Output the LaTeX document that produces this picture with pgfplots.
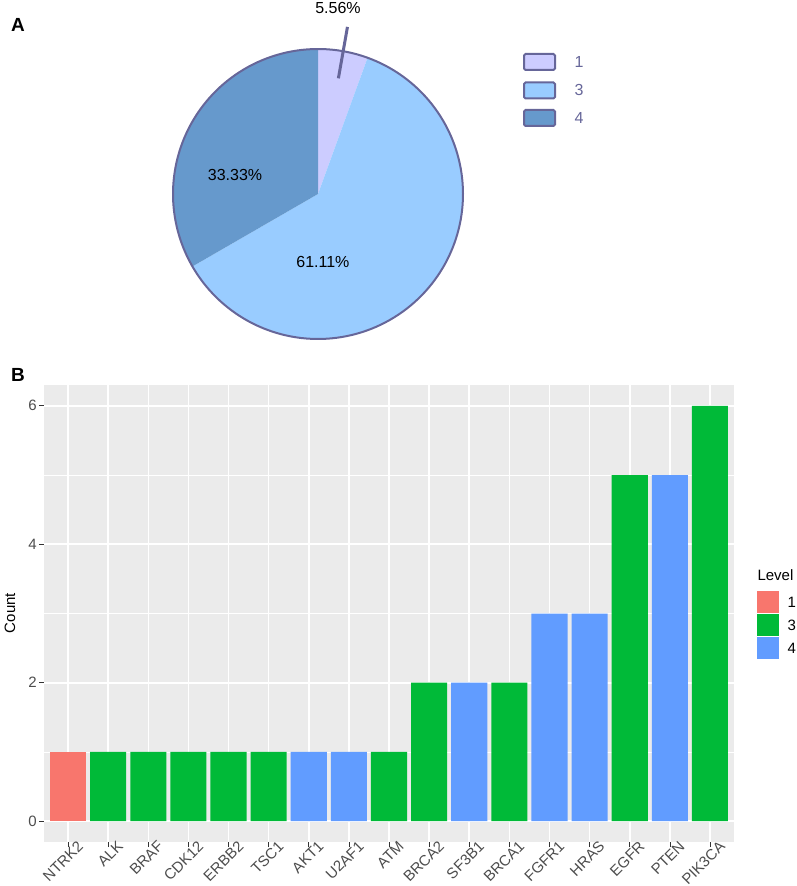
\documentclass[border=0pt]{standalone}
\usepackage{pgfplots}
\pgfplotsset{compat=1.18}
\usepackage{fontspec}
\setmainfont{Liberation Sans}
\definecolor{pA}{HTML}{CCCCFF}
\definecolor{pC}{HTML}{99CCFF}
\definecolor{pD}{HTML}{6699CC}
\definecolor{pedge}{HTML}{666699}
\definecolor{lvA}{HTML}{F8766D}
\definecolor{lvC}{HTML}{00BA38}
\definecolor{lvD}{HTML}{619CFF}
\definecolor{panel}{HTML}{EBEBEB}
\definecolor{ticktext}{HTML}{4D4D4D}
\definecolor{tickline}{HTML}{333333}
% pie data: number of genes per level
\def\nOne{1}\def\nThree{11}\def\nFour{6}
\pgfmathsetmacro{\ntot}{\nOne+\nThree+\nFour}
\pgfmathsetmacro{\aOne}{90-360*\nOne/\ntot}
\pgfmathsetmacro{\aThree}{\aOne-360*\nThree/\ntot}
\pgfmathsetmacro{\aFour}{\aThree-360*\nFour/\ntot}
\pgfmathsetmacro{\aMid}{(90+\aOne)/2}
\begin{document}
\begin{tikzpicture}[x=1pt,y=1pt]
\path[use as bounding box] (0,0) rectangle (796,886);
% ---------- Panel A ----------
\node[font=\fontsize{19}{19}\selectfont\bfseries] at (18,861) {A};
\begin{axis}[at={(173pt,547pt)}, anchor=south west, scale only axis,
  width=290pt, height=290pt, xmin=-1, xmax=1, ymin=-1, ymax=1,
  hide axis, clip=false]
\addplot[fill=pA, draw=none, domain=\aOne:90, samples=20, variable=\t] ({cos(\t)},{sin(\t)}) -- (axis cs:0,0) -- cycle;
\addplot[fill=pC, draw=none, domain=\aThree:\aOne, samples=120, variable=\t] ({cos(\t)},{sin(\t)}) -- (axis cs:0,0) -- cycle;
\addplot[fill=pD, draw=none, domain=\aFour:\aThree, samples=80, variable=\t] ({cos(\t)},{sin(\t)}) -- (axis cs:0,0) -- cycle;
\addplot[draw=pedge, line width=2pt, domain=0:360, samples=180, variable=\t] ({cos(\t)},{sin(\t)});
\addplot[draw=pedge, line width=3pt] coordinates {({0.81*cos(\aMid)},{0.81*sin(\aMid)}) ({1.17*cos(\aMid)},{1.17*sin(\aMid)})};
\node[font=\fontsize{16}{16}\selectfont] at (axis cs:0.138,1.28) {5.56\%};
\node[font=\fontsize{16}{16}\selectfont] at (axis cs:-0.572,0.131) {33.33\%};
\node[font=\fontsize{16}{16}\selectfont] at (axis cs:0.034,-0.469) {61.11\%};
\end{axis}
% legend A
\foreach \c/\lab/\py in {pA/1/62, pC/3/90.5, pD/4/118}{
  \draw[pedge, line width=2pt, fill=\c, rounded corners=1.5pt] (524,886-\py-8) rectangle (555,886-\py+8);
  \node[text=pedge, font=\fontsize{16}{16}\selectfont, anchor=west] at (571,886-\py) {\lab};
}
% ---------- Panel B ----------
\node[font=\fontsize{19}{19}\selectfont\bfseries] at (18,511) {B};
\begin{axis}[at={(44pt,44pt)}, anchor=south west, scale only axis,
  width=690pt, height=457pt,
  xmin=0.4, xmax=17.6, ymin=-0.3, ymax=6.3,
  axis background/.style={fill=panel},
  axis line style={draw=none},
  xtick={1,...,17},
  xticklabels={NTRK2,ALK,BRAF,CDK12,ERBB2,TSC1,AKT1,U2AF1,ATM,BRCA2,SF3B1,BRCA1,FGFR1,HRAS,EGFR,PTEN,PIK3CA},
  ytick={0,2,4,6}, minor ytick={1,3,5},
  /pgf/number format/assume math mode=true,
  grid=both,
  major grid style={white, line width=1.6pt},
  minor grid style={white, line width=0.8pt},
  tick align=outside, xtick pos=bottom, ytick pos=left,
  major tick length=5pt, minor tick length=0pt,
  every tick/.style={tickline, line width=0.6pt},
  tick label style={text=ticktext, font=\fontsize{15}{15}\selectfont},
  yticklabel style={inner sep=2pt},
  xticklabel style={rotate=45, anchor=north east, xshift=12pt, inner sep=1pt},
  bar width=0.9, clip=false]
\addplot[ybar, bar shift=0pt, fill=lvA, draw=none] coordinates {(1,1)};
\addplot[ybar, bar shift=0pt, fill=lvC, draw=none] coordinates {(2,1) (3,1) (4,1) (5,1) (6,1) (9,1) (10,2) (12,2) (15,5) (17,6)};
\addplot[ybar, bar shift=0pt, fill=lvD, draw=none] coordinates {(7,1) (8,1) (11,2) (13,3) (14,3) (16,5)};
\end{axis}
\node[rotate=90, font=\fontsize{15}{15}\selectfont] at (10,273) {Count};
% legend B
\node[anchor=west, font=\fontsize{15}{15}\selectfont] at (754,311) {Level};
\foreach \c/\lab/\py in {lvA/1/602, lvC/3/625, lvD/4/648}{
  \fill[\c] (757,886-\py-11) rectangle (779,886-\py+11);
  \node[anchor=west, font=\fontsize{15}{15}\selectfont] at (784,886-\py) {\lab};
}
\end{tikzpicture}
\end{document}
